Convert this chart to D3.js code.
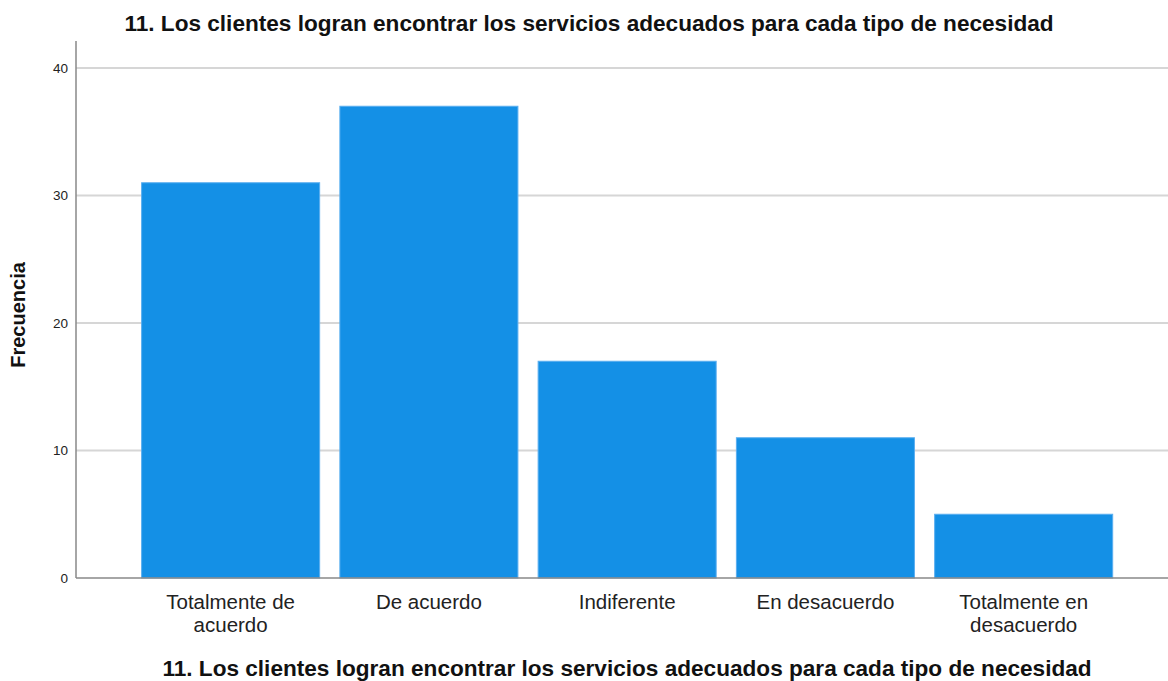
<!DOCTYPE html>
<html>
<head>
<meta charset="utf-8">
<script src="https://cdn.jsdelivr.net/npm/d3@7"></script>
<style>
  body { margin: 0; background: #fff; }
  text { font-family: "Liberation Sans", Arial, sans-serif; }
</style>
</head>
<body>
<svg id="chart" width="1168" height="681"></svg>
<script>
var categories = [["Totalmente de", "acuerdo"], ["De acuerdo"], ["Indiferente"], ["En desacuerdo"], ["Totalmente en", "desacuerdo"]];
var frecuencias = [31, 37, 17, 11, 5];
var yTicks = [0, 10, 20, 30, 40];
var titulo = "11. Los clientes logran encontrar los servicios adecuados para cada tipo de necesidad";

var svg = d3.select("#chart"),
    width = +svg.attr("width"),
    height = +svg.attr("height");

var plotLeft = 76, plotBottom = 578, plotTop = 41;

var x = d3.scaleBand()
    .domain(d3.range(categories.length))
    .range([131.5, 1122.8])
    .paddingInner(0.102)
    .paddingOuter(0.051);

var y = d3.scaleLinear()
    .domain([0, 40])
    .range([plotBottom, 68]);

// grid lines
svg.append("g")
    .selectAll("line")
    .data(yTicks.filter(function(d) { return d > 0; }))
    .enter().append("line")
    .attr("x1", plotLeft)
    .attr("x2", width)
    .attr("y1", function(d) { return y(d); })
    .attr("y2", function(d) { return y(d); })
    .attr("stroke", "#d6d6d6")
    .attr("stroke-width", 2);

// bars
svg.append("g")
    .selectAll("rect")
    .data(frecuencias)
    .enter().append("rect")
    .attr("x", function(d, i) { return x(i); })
    .attr("y", function(d) { return y(d); })
    .attr("width", x.bandwidth())
    .attr("height", function(d) { return plotBottom - y(d); })
    .attr("fill", "#1490e6")
    .attr("stroke", "#5aaef0")
    .attr("stroke-width", 1);

// y axis
var yAxis = svg.append("g")
    .attr("transform", "translate(" + plotLeft + ",0)")
    .call(d3.axisLeft(y).tickValues(yTicks).tickSize(0).tickPadding(8));
yAxis.select(".domain").remove();
yAxis.selectAll("text")
    .attr("font-size", 13.5)
    .attr("fill", "#222")
    .style("font-family", "'Liberation Sans', Arial, sans-serif");

svg.append("line")
    .attr("x1", plotLeft).attr("x2", plotLeft)
    .attr("y1", plotTop).attr("y2", plotBottom)
    .attr("stroke", "#888").attr("stroke-width", 1.5);
svg.append("line")
    .attr("x1", plotLeft).attr("x2", width)
    .attr("y1", plotBottom).attr("y2", plotBottom)
    .attr("stroke", "#888").attr("stroke-width", 1.5);

// category labels
var catLabels = svg.append("g")
    .selectAll("text")
    .data(categories)
    .enter().append("text")
    .attr("x", function(d, i) { return x(i) + x.bandwidth() / 2; })
    .attr("y", 609)
    .attr("text-anchor", "middle")
    .attr("font-size", 20.5)
    .attr("fill", "#222");
catLabels.selectAll("tspan")
    .data(function(d) { return d; })
    .enter().append("tspan")
    .attr("x", function() { return d3.select(this.parentNode).attr("x"); })
    .attr("dy", function(d, i) { return i === 0 ? 0 : 22.5; })
    .text(function(d) { return d; });

// titles
svg.append("text")
    .attr("x", 589)
    .attr("y", 31)
    .attr("text-anchor", "middle")
    .attr("font-size", 22.6)
    .attr("font-weight", "bold")
    .attr("fill", "#111")
    .text(titulo);

svg.append("text")
    .attr("x", 627)
    .attr("y", 676)
    .attr("text-anchor", "middle")
    .attr("font-size", 22.6)
    .attr("font-weight", "bold")
    .attr("fill", "#111")
    .text(titulo);

svg.append("text")
    .attr("transform", "translate(25,315) rotate(-90)")
    .attr("text-anchor", "middle")
    .attr("font-size", 20)
    .attr("font-weight", "bold")
    .attr("fill", "#111")
    .text("Frecuencia");
</script>
</body>
</html>
